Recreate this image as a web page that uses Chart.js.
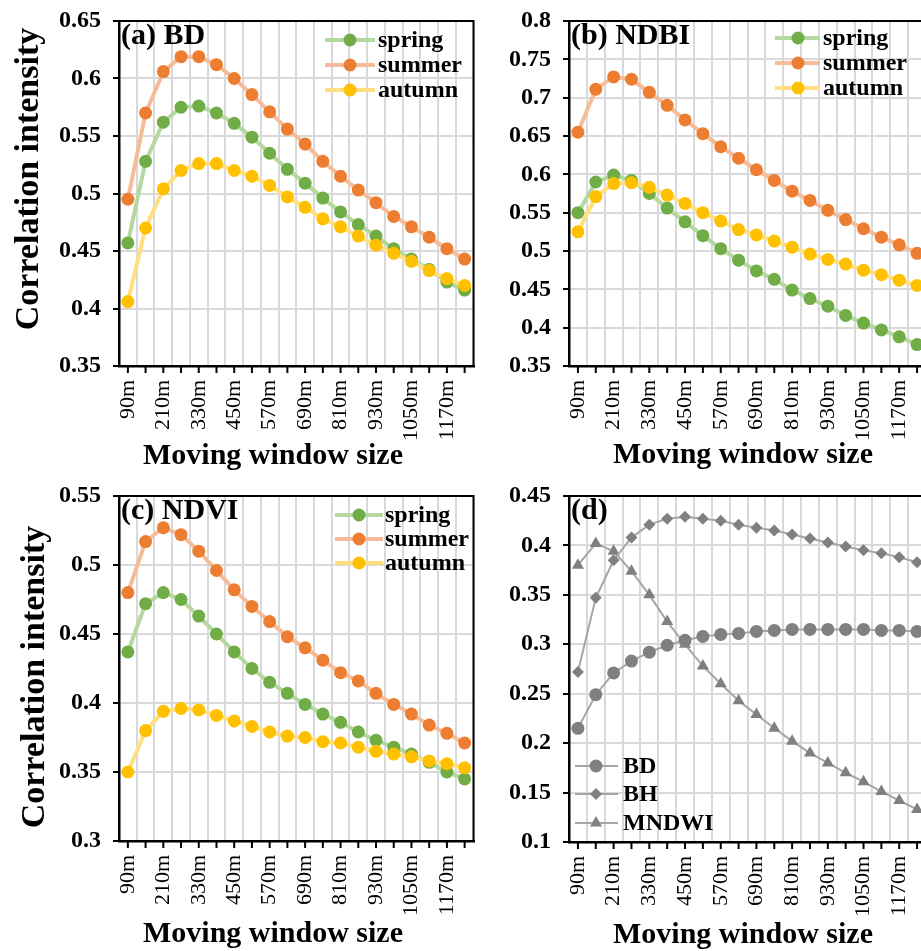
<!DOCTYPE html>
<html>
<head>
<meta charset="utf-8">
<script src="https://cdn.jsdelivr.net/npm/chart.js@4.4.1/dist/chart.umd.min.js"></script>
<style>
  html, body { margin: 0; padding: 0; background: #fff; overflow: hidden; width: 921px; height: 951px; }
  .panel { position: absolute; }
</style>
</head>
<body>
<div class="panel" style="left:0;top:0"><canvas id="chartA" width="480" height="475"></canvas></div>
<div class="panel" style="left:480px;top:0"><canvas id="chartB" width="460" height="475"></canvas></div>
<div class="panel" style="left:0;top:475px"><canvas id="chartC" width="480" height="476"></canvas></div>
<div class="panel" style="left:480px;top:475px"><canvas id="chartD" width="460" height="476"></canvas></div>
<script>
const windowSizes = ['90m', '150m', '210m', '270m', '330m', '390m', '450m', '510m', '570m', '630m',
  '690m', '750m', '810m', '870m', '930m', '990m', '1050m', '1110m', '1170m', '1230m'];
const xTickLabels = ['90m', '210m', '330m', '450m', '570m', '690m', '810m', '930m', '1050m', '1170m'];

// (a) BD
const bdSpring = [0.457, 0.528, 0.562, 0.575, 0.576, 0.570, 0.561, 0.549, 0.535, 0.521, 0.509, 0.496, 0.484, 0.473, 0.463, 0.452, 0.443, 0.434, 0.423, 0.416];
const bdSummer = [0.495, 0.570, 0.606, 0.619, 0.619, 0.612, 0.600, 0.586, 0.571, 0.556, 0.543, 0.528, 0.515, 0.503, 0.492, 0.480, 0.471, 0.462, 0.452, 0.443];
const bdAutumn = [0.406, 0.470, 0.504, 0.520, 0.526, 0.526, 0.520, 0.515, 0.507, 0.497, 0.488, 0.478, 0.471, 0.463, 0.455, 0.448, 0.441, 0.433, 0.426, 0.420];

// (b) NDBI
const ndbiSpring = [0.550, 0.590, 0.599, 0.592, 0.575, 0.556, 0.538, 0.520, 0.503, 0.488, 0.474, 0.463, 0.449, 0.438, 0.428, 0.416, 0.406, 0.397, 0.388, 0.378];
const ndbiSummer = [0.655, 0.711, 0.727, 0.724, 0.707, 0.690, 0.671, 0.653, 0.636, 0.621, 0.606, 0.592, 0.578, 0.566, 0.553, 0.541, 0.529, 0.518, 0.508, 0.497];
const ndbiAutumn = [0.525, 0.571, 0.588, 0.589, 0.583, 0.573, 0.562, 0.550, 0.539, 0.528, 0.521, 0.513, 0.505, 0.496, 0.489, 0.483, 0.475, 0.469, 0.462, 0.455];

// (c) NDVI
const ndviSpring = [0.437, 0.472, 0.480, 0.475, 0.463, 0.450, 0.437, 0.425, 0.415, 0.407, 0.399, 0.392, 0.386, 0.379, 0.373, 0.368, 0.363, 0.357, 0.350, 0.345];
const ndviSummer = [0.480, 0.517, 0.527, 0.522, 0.510, 0.496, 0.482, 0.470, 0.459, 0.448, 0.440, 0.431, 0.422, 0.416, 0.407, 0.399, 0.392, 0.384, 0.378, 0.371];
const ndviAutumn = [0.350, 0.380, 0.394, 0.396, 0.395, 0.391, 0.387, 0.383, 0.379, 0.376, 0.375, 0.372, 0.371, 0.368, 0.365, 0.363, 0.361, 0.358, 0.356, 0.353];

// (d)
const dBD = [0.215, 0.249, 0.271, 0.283, 0.292, 0.299, 0.304, 0.308, 0.310, 0.311, 0.313, 0.314, 0.315, 0.315, 0.315, 0.315, 0.315, 0.314, 0.314, 0.313];
const dBH = [0.272, 0.347, 0.385, 0.408, 0.421, 0.427, 0.429, 0.427, 0.425, 0.421, 0.418, 0.415, 0.411, 0.407, 0.403, 0.399, 0.395, 0.392, 0.388, 0.383];
const dMNDWI = [0.380, 0.402, 0.394, 0.374, 0.350, 0.323, 0.300, 0.278, 0.260, 0.243, 0.229, 0.215, 0.202, 0.190, 0.180, 0.170, 0.161, 0.151, 0.142, 0.133];

const FONT = "'Liberation Serif', 'Times New Roman', serif";

const seasonStyle = {
  spring: { mark: '#70ad47', line: '#b5d89f' },
  summer: { mark: '#ed7d31', line: '#f6bb98' },
  autumn: { mark: '#ffc000', line: '#ffdf80' }
};

function seasonSets(spring, summer, autumn) {
  const mk = (label, data, order) => ({
    label, data, order,
    borderColor: seasonStyle[label].line,
    backgroundColor: seasonStyle[label].mark,
    pointBackgroundColor: seasonStyle[label].mark,
    borderWidth: 4,
    pointRadius: 6.5,
    pointBorderWidth: 0,
    pointStyle: 'circle',
    tension: 0
  });
  return [mk('spring', spring, 3), mk('summer', summer, 2), mk('autumn', autumn, 1)];
}

function greySets() {
  const mk = (label, data, style, r) => ({
    label, data,
    borderColor: '#a6a6a6',
    backgroundColor: '#808080',
    pointBackgroundColor: '#808080',
    borderWidth: 2,
    pointRadius: r,
    pointBorderWidth: 0,
    pointStyle: style,
    tension: 0
  });
  return [mk('BD', dBD, 'circle', 6.5), mk('BH', dBH, 'rectRot', 6), mk('MNDWI', dMNDWI, 'triangle', 7)];
}

const decor = {
  id: 'decor',
  beforeDatasetsDraw(chart) {
    const { ctx, chartArea: a, scales: { x } } = chart;
    ctx.save();
    ctx.strokeStyle = '#000';
    ctx.lineWidth = 2;
    ctx.beginPath();
    ctx.moveTo(a.left, a.top);
    ctx.lineTo(a.right, a.top);
    ctx.lineTo(a.right, a.bottom);
    ctx.stroke();
    // tick marks sit under the points, grid lines between them
    ctx.beginPath();
    x.ticks.forEach((t, i) => {
      const px = x.getPixelForTick(i);
      ctx.moveTo(px, a.bottom);
      ctx.lineTo(px, a.bottom + 7);
    });
    ctx.stroke();
    ctx.restore();
  },
  afterDraw(chart, args, o) {
    const { ctx, chartArea: a } = chart;
    ctx.save();
    ctx.fillStyle = '#000';

    ctx.font = `bold 30px ${FONT}`;
    ctx.textAlign = 'left';
    ctx.textBaseline = 'alphabetic';
    ctx.fillText(o.title, a.left + 2, a.top + 23);

    const lg = o.legend;
    ctx.font = `bold 24px ${FONT}`;
    ctx.textBaseline = 'middle';
    chart.data.datasets.forEach((ds, i) => {
      const y = lg.rows[i];
      ctx.strokeStyle = ds.borderColor;
      ctx.lineWidth = ds.borderWidth;
      ctx.beginPath();
      ctx.moveTo(lg.x0, y);
      ctx.lineTo(lg.x1, y);
      ctx.stroke();
      ctx.fillStyle = ds.pointBackgroundColor;
      Chart.helpers.drawPoint(ctx, { pointStyle: ds.pointStyle, radius: ds.pointRadius, rotation: 0, borderWidth: 0 }, lg.mx, y);
      ctx.fillStyle = '#000';
      ctx.fillText(ds.label, lg.tx, y + 1);
    });

    ctx.font = `bold 30px ${FONT}`;
    ctx.textAlign = 'center';
    ctx.textBaseline = 'alphabetic';
    ctx.fillText('Moving window size', o.xTitle[0], o.xTitle[1]);

    if (o.yTitle) {
      ctx.translate(o.yTitle[0], o.yTitle[1]);
      ctx.rotate(-Math.PI / 2);
      ctx.font = `bold 34px ${FONT}`;
      ctx.textBaseline = 'middle';
      ctx.fillText('Correlation intensity', 0, 0);
    }
    ctx.restore();
  }
};

function makePanel(id, p) {
  const canvas = document.getElementById(id);
  return new Chart(canvas, {
    type: 'line',
    data: { labels: windowSizes, datasets: p.datasets },
    options: {
      responsive: false,
      animation: false,
      events: [],
      layout: { padding: { left: 0, top: 21, right: p.right, bottom: 0 } },
      scales: {
        x: {
          type: 'category',
          offset: true,
          grid: { offset: true, color: '#d9d9d9', lineWidth: 2, drawTicks: false },
          border: { display: true, color: '#000', width: 2.5 },
          ticks: {
            autoSkip: false,
            minRotation: 90,
            maxRotation: 90,
            padding: 14,
            color: '#000',
            font: { family: FONT, size: 22 },
            callback(v) {
              const l = this.getLabelForValue(v);
              return xTickLabels.includes(l) ? l : '';
            }
          },
          afterFit(s) { s.height = p.xHeight; s.paddingLeft = 0; s.paddingRight = 0; }
        },
        y: {
          min: p.min,
          max: p.max,
          grid: { color: '#d9d9d9', lineWidth: 2, tickColor: '#000', tickLength: 6, tickWidth: 2 },
          border: { display: true, color: '#000', width: 2.5 },
          ticks: {
            stepSize: 0.05,
            padding: 12,
            color: '#000',
            font: { family: FONT, size: 24, weight: 'bold' },
            callback: v => String(parseFloat(v.toFixed(2)))
          },
          afterFit(s) { s.width = p.yWidth; s.paddingTop = 0; s.paddingBottom = 0; }
        }
      },
      plugins: {
        legend: { display: false },
        tooltip: { enabled: false },
        decor: { title: p.title, legend: p.legend, xTitle: p.xTitle, yTitle: p.yTitle }
      }
    },
    plugins: [decor]
  });
}

makePanel('chartA', {
  datasets: seasonSets(bdSpring, bdSummer, bdAutumn),
  min: 0.35, max: 0.65, right: 4, yWidth: 119, xHeight: 109,
  title: '(a) BD',
  legend: { x0: 325, x1: 375, mx: 350, tx: 378, rows: [40, 65, 90] },
  xTitle: [273, 464], yTitle: [29, 179]
});

makePanel('chartB', {
  datasets: seasonSets(ndbiSpring, ndbiSummer, ndbiAutumn),
  min: 0.35, max: 0.8, right: 14, yWidth: 89, xHeight: 109,
  title: '(b) NDBI',
  legend: { x0: 295, x1: 340, mx: 318, tx: 343, rows: [38, 63, 88] },
  xTitle: [263, 463], yTitle: null
});

makePanel('chartC', {
  datasets: seasonSets(ndviSpring, ndviSummer, ndviAutumn),
  min: 0.3, max: 0.55, right: 4, yWidth: 119, xHeight: 110,
  title: '(c) NDVI',
  legend: { x0: 335, x1: 383, mx: 359, tx: 385, rows: [40, 64, 88] },
  xTitle: [273, 467], yTitle: [35, 202]
});

makePanel('chartD', {
  datasets: greySets(),
  min: 0.1, max: 0.45, right: 14, yWidth: 89, xHeight: 109,
  title: '(d)',
  legend: { x0: 95, x1: 138, mx: 116, tx: 143, rows: [291, 319, 348] },
  xTitle: [263, 468], yTitle: null
});
</script>
</body>
</html>
